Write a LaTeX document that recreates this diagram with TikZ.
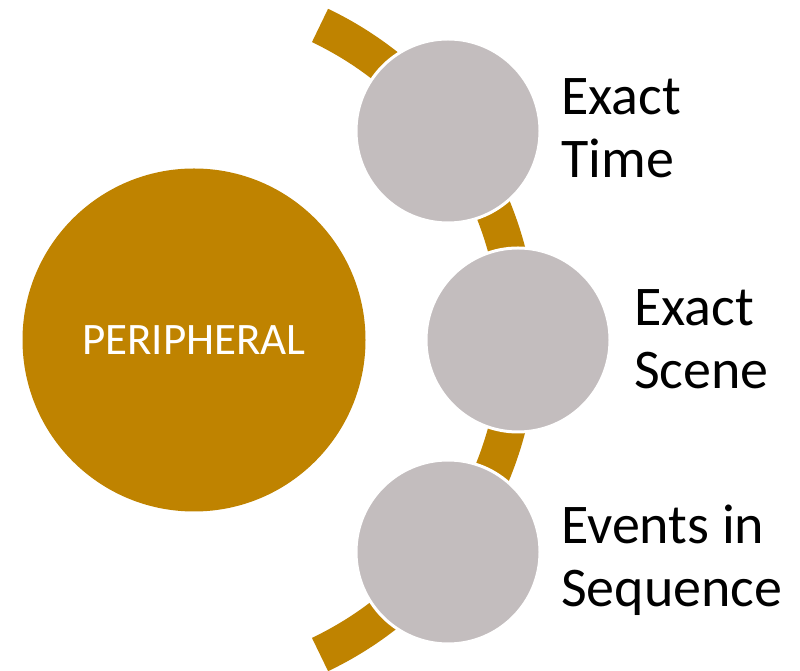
\documentclass[tikz,border=0pt]{standalone}
\usepackage{fontspec}
\setmainfont{Carlito}
\definecolor{gold}{RGB}{191,131,0}
\definecolor{cgray}{RGB}{195,189,190}
\begin{document}
\begin{tikzpicture}[x=1pt,y=1pt,
  bigc/.style={circle, fill=gold, minimum size=343pt, inner sep=0pt, text=white, font=\fontsize{45}{54}\selectfont},
  smallc/.style={circle, fill=cgray, draw=white, line width=3pt, minimum size=184pt, inner sep=0pt},
  lbl/.style={anchor=base west, align=left, inner sep=0pt, font=\fontsize{56}{63}\selectfont},
  band/.style={draw=gold, line width=37pt}]
\useasboundingbox (0,0) rectangle (800,671);
\fill[white] (0,0) rectangle (800,671);
\coordinate (arcc) at (170,331);
\draw[band] (arcc) ++(-64.5:348.5) arc[start angle=-64.5, end angle=64.5, radius=348.5];
\node[bigc] (main) at (194,331) {PERIPHERAL};
\node[smallc] (c1) at (448,540) {};
\node[smallc] (c2) at (518,331) {};
\node[smallc] (c3) at (448,119) {};
\node[lbl] (t1) at (561,493) {Exact\\Time};
\node[lbl] (t2) at (634,282) {Exact\\Scene};
\node[lbl] (t3) at (561,64) {Events in\\Sequence};
\end{tikzpicture}
\end{document}
